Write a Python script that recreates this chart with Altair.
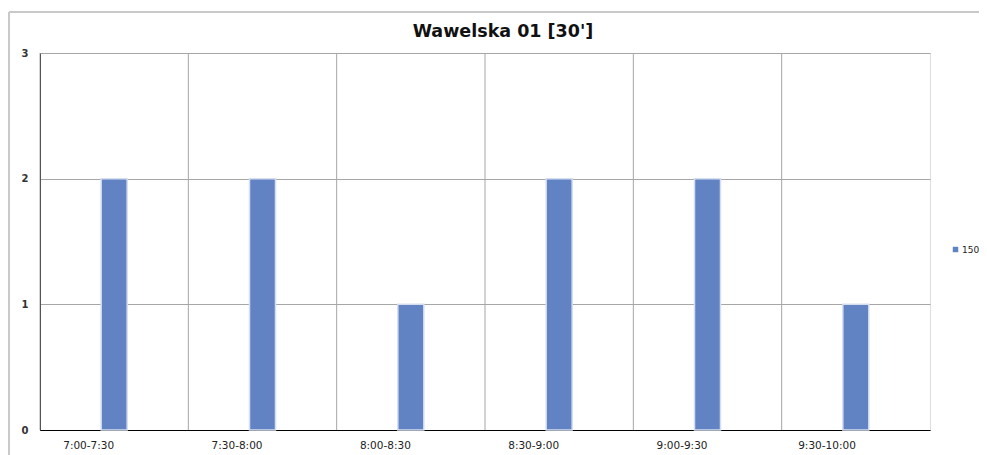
import altair as alt
import pandas as pd

categories = ["7:00-7:30", "7:30-8:00", "8:00-8:30", "8:30-9:00", "9:00-9:30", "9:30-10:00"]
values = [2, 2, 1, 2, 2, 1]
series = ["150"] * 6
title_text = ["Wawelska 01 [30']"]

df = pd.DataFrame({"slot": categories, "count": values, "series": series})
tdf = pd.DataFrame({"t": title_text})

W, H = 890, 377

xscale = alt.Scale(domain=categories, paddingInner=0, paddingOuter=0)

bars = alt.Chart(df).mark_bar(width=26, stroke="#d5deef", strokeWidth=1.5, fill="#6183c4").encode(
    x=alt.X("slot:N", sort=categories, scale=xscale,
            axis=alt.Axis(title=None, labelAngle=0, grid=False, ticks=False,
                          domainColor="#000000", labelFontSize=10.5, labelColor="#222222",
                          labelFont="DejaVu Sans", labelPadding=15)),
    y=alt.Y("count:Q", scale=alt.Scale(domain=[0, 3]),
            axis=alt.Axis(title=None, values=[0, 1, 2, 3], grid=True, gridColor="#a6a6a6",
                          ticks=False, domainColor="#000000", labelFontSize=10,
                          labelFontWeight="bold", labelColor="#333333", labelFont="DejaVu Sans",
                          labelPadding=12)),
    color=alt.Color("series:N", scale=alt.Scale(range=["#6183c4"]),
                    legend=alt.Legend(title=None, orient="none", legendX=911, legendY=192,
                                      symbolType="square", symbolSize=30, labelFontSize=9,
                                      labelFont="DejaVu Sans", labelColor="#222222", padding=0,
                                      labelOffset=2, symbolStrokeWidth=0)),
)

vlines = alt.Chart(df).mark_rule(color="#a6a6a6", strokeWidth=1).encode(
    x=alt.X("slot:N", sort=categories, scale=xscale, bandPosition=0),
)

left_border = alt.Chart(df).mark_rule(color="#c8c8c8", strokeWidth=1.5).encode(
    x=alt.value(-31), y=alt.value(-41), y2=alt.value(H + 30)
)
top_border = alt.Chart(df).mark_rule(color="#c8c8c8", strokeWidth=1.5).encode(
    x=alt.value(-31), x2=alt.value(W + 70), y=alt.value(-41)
)

title = alt.Chart(tdf).mark_text(fontSize=17.5, fontWeight="bold", font="DejaVu Sans",
                                 color="#111111", align="center", baseline="middle").encode(
    text="t:N", x=alt.value(W / 2 + 18), y=alt.value(-21)
)

chart = alt.layer(vlines, bars, left_border, top_border, title).properties(
    width=W, height=H,
    autosize=alt.AutoSizeParams(type="none"),
    padding={"left": 32, "top": 45, "right": 49, "bottom": 25},
).configure_view(stroke="#555555", strokeWidth=1).configure(background="white")

chart.save("out.html", embed_options={"renderer": "svg", "actions": False})
